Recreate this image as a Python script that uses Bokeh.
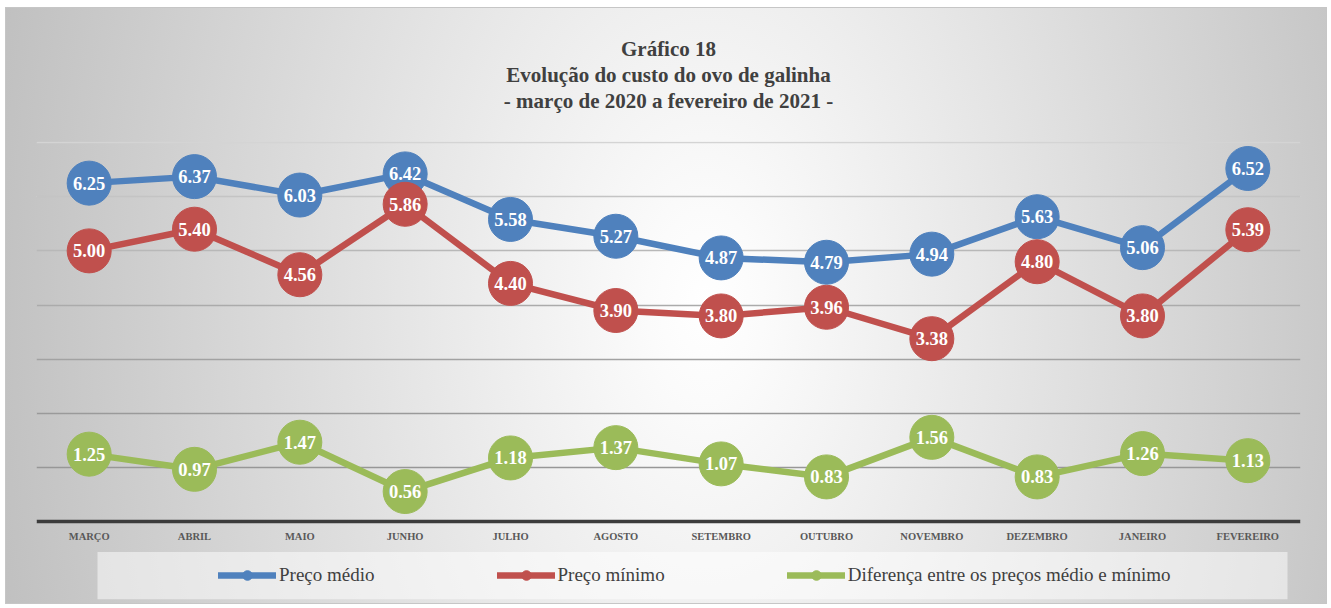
from bokeh.plotting import figure
from bokeh.models import (FactorRange, Range1d, Grid, FixedTicker, Title, Legend,
                          LegendItem, BoxAnnotation, ColumnDataSource)
from bokeh.core.properties import value
from bokeh.embed import file_html
from bokeh.resources import INLINE

MONTHS = ["MARÇO", "ABRIL", "MAIO", "JUNHO", "JULHO", "AGOSTO", "SETEMBRO",
          "OUTUBRO", "NOVEMBRO", "DEZEMBRO", "JANEIRO", "FEVEREIRO"]
PRECO_MEDIO = [6.25, 6.37, 6.03, 6.42, 5.58, 5.27, 4.87, 4.79, 4.94, 5.63, 5.06, 6.52]
PRECO_MINIMO = [5.00, 5.40, 4.56, 5.86, 4.40, 3.90, 3.80, 3.96, 3.38, 4.80, 3.80, 5.39]
DIFERENCA = [1.25, 0.97, 1.47, 0.56, 1.18, 1.37, 1.07, 0.83, 1.56, 0.83, 1.26, 1.13]
SERIES_NAMES = ["Preço médio", "Preço mínimo", "Diferença entre os preços médio e mínimo"]
SERIES_COLORS = ["#4F81BD", "#C0504D", "#9BBB59"]
TITLE_LINES = ["Gráfico 18", "Evolução do custo do ovo de galinha",
               "- março de 2020 a fevereiro de 2021 -"]
GRID_VALUES = [1, 2, 3, 4, 5, 6, 7]
GRID_COLORS = ["#979797", "#9a9a9a", "#a2a2a2", "#ababab", "#b8b8b8", "#c4c4c4", "#d4d4d4"]

SERIF = "Liberation Serif"

p = figure(width=1322, height=597, x_range=FactorRange(*MONTHS), y_range=Range1d(-1.5424, 7.018),
           output_backend="svg", toolbar_location=None, y_axis_location=None, title=None,
           min_border_left=30, min_border_right=28, min_border_top=133, min_border_bottom=0)

p.background_fill_alpha = 0
p.border_fill_alpha = 0
p.outline_line_color = None
p.styles = {
    "margin-left": "5px",
    "margin-top": "7px",
    "background": "radial-gradient(ellipse 55% 200% at 53% 50%, #ffffff 0%, #fbfbfb 8%, #c0c0c0 100%)",
    "border": "1px solid #c6c6c6",
}

p.xgrid.visible = False
for gv, gc in zip(GRID_VALUES, GRID_COLORS):
    p.add_layout(Grid(dimension=1, ticker=FixedTicker(ticks=[gv]),
                      grid_line_color=gc, grid_line_width=1.5))

ax = p.xaxis[0]
ax.fixed_location = 0
ax.axis_line_color = "#3c3c3c"
ax.axis_line_width = 3.5
ax.major_tick_line_color = None
ax.minor_tick_line_color = None
ax.major_label_text_font = SERIF
ax.major_label_text_font_style = "bold"
ax.major_label_text_font_size = "10.5px"
ax.major_label_text_color = "#595959"
ax.major_label_standoff = 3

legend_items = []
for name, vals, col in zip(SERIES_NAMES, [PRECO_MEDIO, PRECO_MINIMO, DIFERENCA], SERIES_COLORS):
    src = ColumnDataSource(dict(x=MONTHS, y=vals))
    lr = p.line("x", "y", source=src, line_color=col, line_width=6.5, line_cap="round")
    sr = p.scatter("x", "y", source=src, size=44, fill_color=col, line_color=col)
    legend_items.append(LegendItem(label=name, renderers=[lr, sr]))

for vals in [PRECO_MEDIO, PRECO_MINIMO, DIFERENCA]:
    src = ColumnDataSource(dict(x=MONTHS, y=vals, lab=[f"{v:.2f}" for v in vals]))
    p.text("x", "y", text="lab", source=src, text_color="white", text_font=value(SERIF),
           text_font_style="bold", text_font_size="18.5px", text_align="center",
           text_baseline="middle")

box = BoxAnnotation(left=61, right=1251, left_units="screen", right_units="screen",
                    top=-0.556, bottom=-1.426, fill_color="white", fill_alpha=0.5,
                    line_alpha=0)
p.add_layout(box)

legend = Legend(items=legend_items, orientation="horizontal", location=(182, 18),
                padding=0, spacing=122, glyph_width=58, glyph_height=24, label_height=24,
                label_standoff=3, label_text_font=SERIF, label_text_font_size="19px",
                label_text_color="#404040", background_fill_alpha=0, border_line_alpha=0,
                margin=0)
p.add_layout(legend)

# spacer between frame and title block
p.add_layout(Title(text=" ", standoff=3, text_font=SERIF, text_font_size="21px"), "above")
# title lines: bottom line first (stacked upward)
for line in reversed(TITLE_LINES):
    p.add_layout(Title(text=line, align="center", offset=-7, standoff=0,
                       text_font=SERIF, text_font_style="bold", text_font_size="21px",
                       text_color="#404040"), "above")

open("out.html", "w").write(file_html(p, INLINE))
